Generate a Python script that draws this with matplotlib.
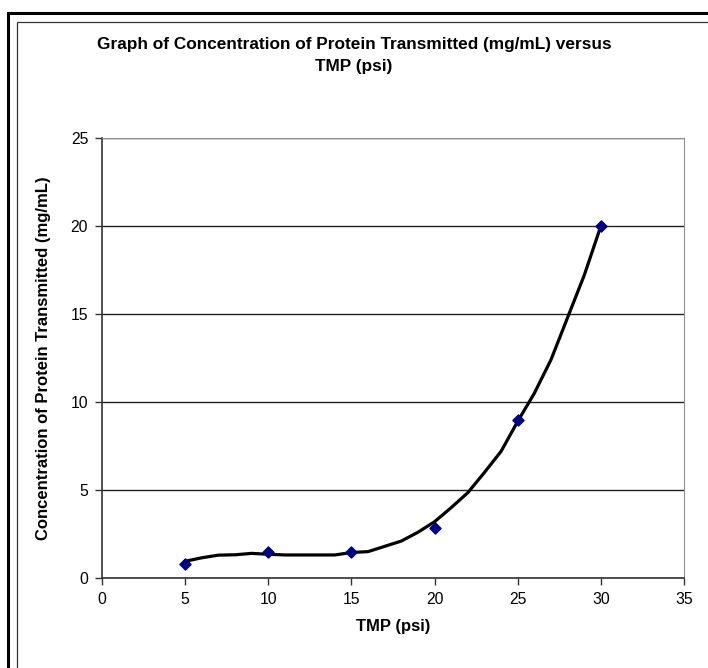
import matplotlib
matplotlib.use('Agg')
import matplotlib.pyplot as plt
from matplotlib.patches import Rectangle

plt.rcParams['font.family'] = ['Liberation Sans', 'DejaVu Sans']

# measured points
tmp_psi = [5, 10, 15, 20, 25, 30]
conc = [0.8, 1.45, 1.45, 2.85, 9.0, 20.0]

trend_x = [5, 6, 7, 8, 9, 10, 11, 12, 13, 14, 15, 16, 17, 18, 19, 20,
           21, 22, 23, 24, 25, 26, 27, 28, 29, 30]
trend_y = [0.95, 1.15, 1.3, 1.32, 1.4, 1.35, 1.31, 1.31, 1.31, 1.31, 1.45, 1.5, 1.8, 2.1, 2.6, 3.2,
           4.0, 4.85, 6.0, 7.2, 8.9, 10.5, 12.4, 14.8, 17.2, 20.0]

x_ticks = [0, 5, 10, 15, 20, 25, 30, 35]
y_ticks = [0, 5, 10, 15, 20, 25]

fig = plt.figure(figsize=(7.08, 6.68), dpi=100)
ax = fig.add_axes([0.1441, 0.1347, 0.8220, 0.6587])

# chart area border, cut off at the right and bottom edge of the picture
fig.patches.append(Rectangle((8 / 708, -0.1), 1.2, 1 - 13 / 668 + 0.1, transform=fig.transFigure,
                             fill=False, edgecolor='black', linewidth=2.2))
fig.patches.append(Rectangle((16.5 / 708, -0.1), 1.2, 1 - 21.5 / 668 + 0.1, transform=fig.transFigure,
                             fill=False, edgecolor='#333333', linewidth=0.9))

ax.plot(trend_x, trend_y, color='black', linewidth=2.3, zorder=3, solid_joinstyle='round')
ax.scatter(tmp_psi, conc, marker='D', s=32, color='#000080', zorder=4)

ax.set_xlim(0, 35)
ax.set_ylim(0, 25)
ax.set_xticks(x_ticks)
ax.set_yticks(y_ticks)
ax.yaxis.grid(True, color='#222222', linewidth=1.0)
ax.set_axisbelow(True)
ax.tick_params(direction='out', length=5, width=1, colors='#333333', labelcolor='black', labelsize=11.3)
ax.tick_params(axis='x', pad=5)
ax.tick_params(axis='y', pad=5)
for side in ['top', 'right']:
    ax.spines[side].set_color('#909090')
for side in ['left', 'bottom']:
    ax.spines[side].set_color('#333333')
    ax.spines[side].set_linewidth(1.2)

ax.set_xlabel('TMP (psi)', fontsize=12, fontweight='bold', labelpad=9)
ax.set_ylabel('Concentration of Protein Transmitted (mg/mL)', fontsize=12, fontweight='bold', labelpad=14)
fig.text(0.5, 1 - 44 / 668, 'Graph of Concentration of Protein Transmitted (mg/mL) versus',
         ha='center', va='center', fontsize=12.4, fontweight='bold')
fig.text(0.5, 1 - 67 / 668, 'TMP (psi)', ha='center', va='center', fontsize=12.4, fontweight='bold')

fig.savefig('out.png', dpi=100)
